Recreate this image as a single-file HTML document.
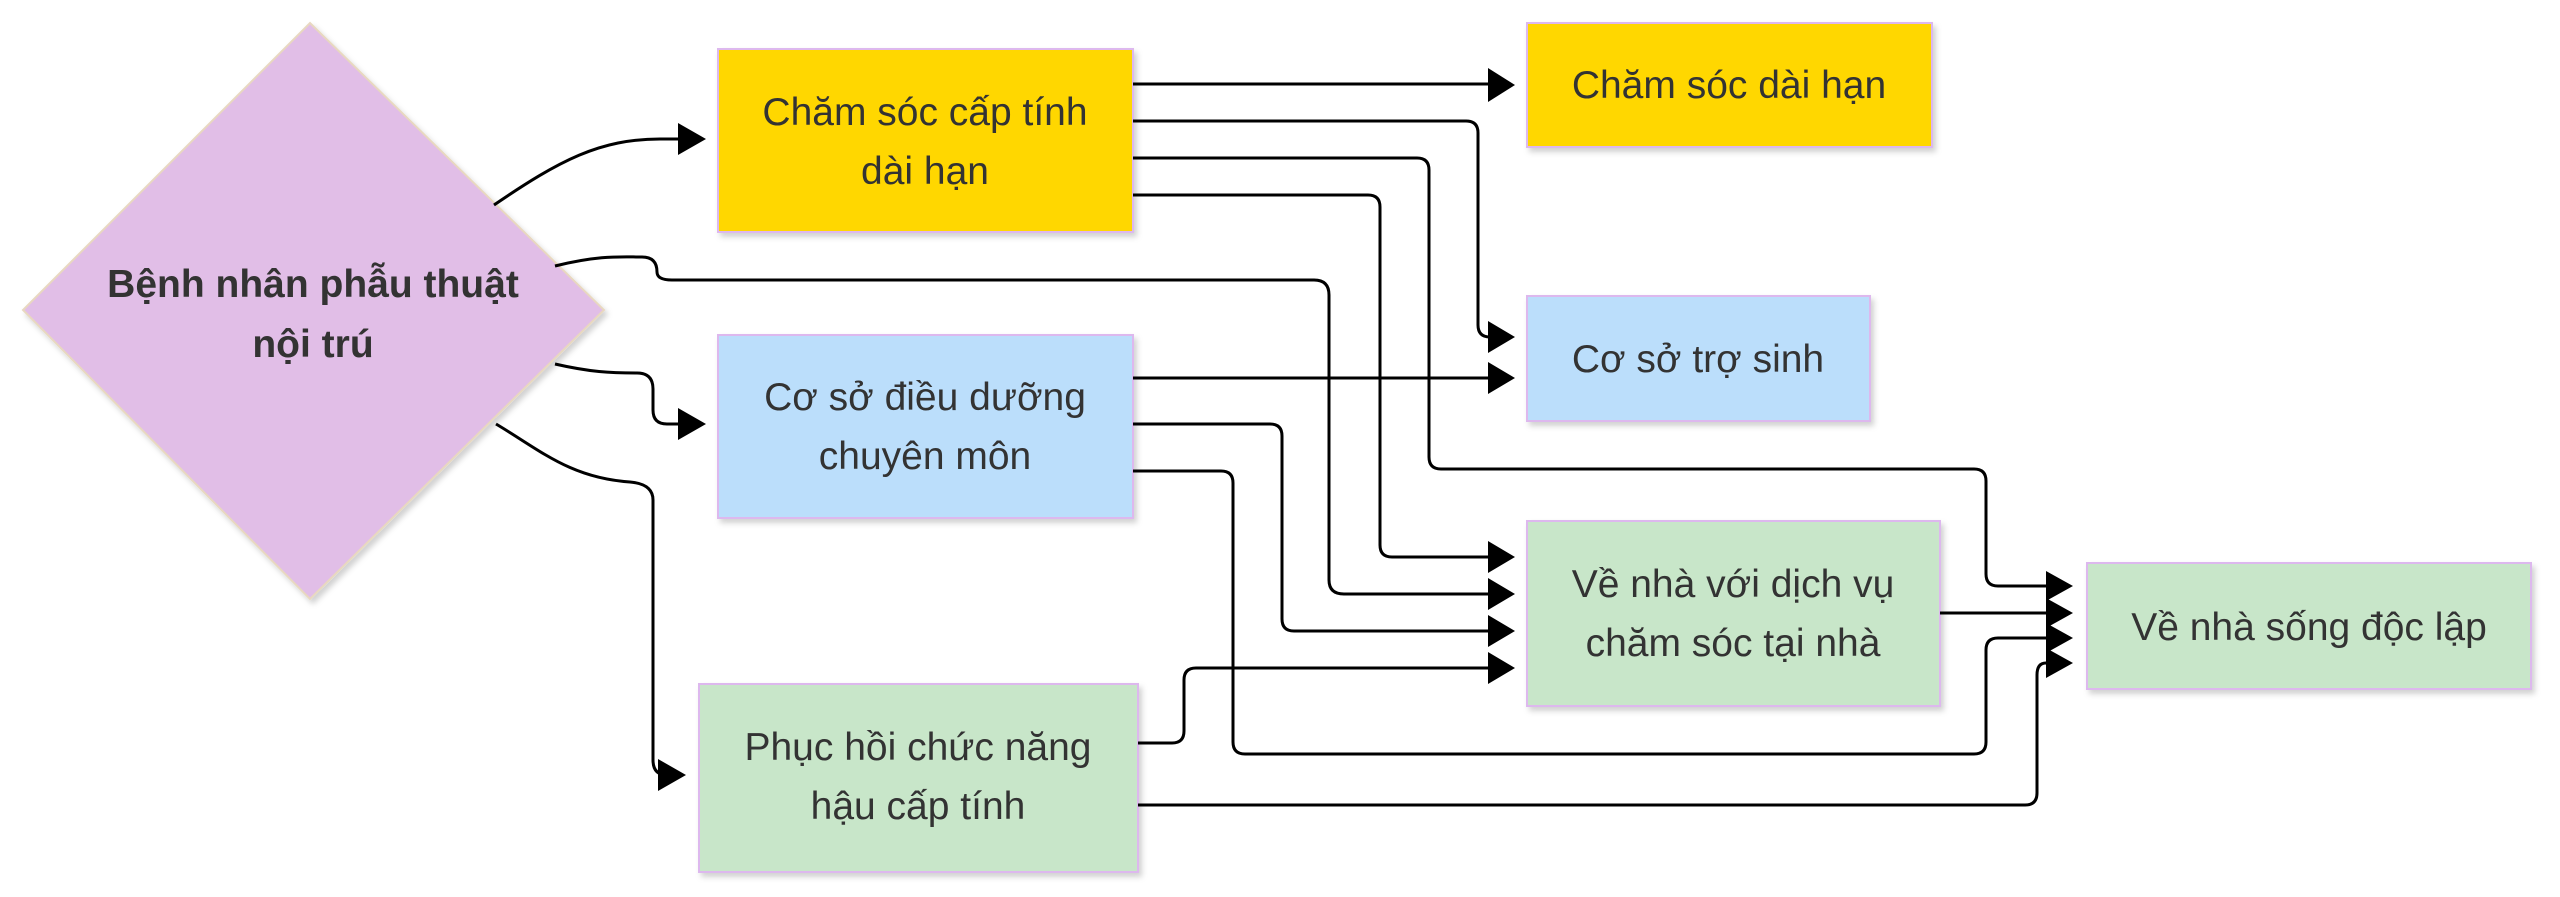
<!DOCTYPE html>
<html><head><meta charset="utf-8"><style>
body{margin:0;background:#fff;}
svg text{font-family:"Liberation Sans",sans-serif;font-size:39px;fill:#333;}
</style></head><body>
<svg width="2560" height="892" viewBox="0 0 2560 892" xmlns="http://www.w3.org/2000/svg">
<defs>
<filter id="sh" x="-10%" y="-10%" width="130%" height="130%"><feDropShadow dx="3" dy="4" stdDeviation="3" flood-color="#000" flood-opacity="0.18"/></filter>
</defs>
<polygon points="310,23 604,310 310,599 23,310" fill="#E1BEE7" stroke="#E8D8C0" stroke-width="2" filter="url(#sh)"/>
<g stroke="#DDB8EE" stroke-width="2" filter="url(#sh)">
<rect x="718" y="49" width="415" height="183" fill="#FFD700"/>
<rect x="718" y="335" width="415" height="183" fill="#BBDEFB"/>
<rect x="699" y="684" width="439" height="188" fill="#C8E6C9"/>
<rect x="1527" y="23" width="405" height="124" fill="#FFD700"/>
<rect x="1527" y="296" width="343" height="125" fill="#BBDEFB"/>
<rect x="1527" y="521" width="413" height="185" fill="#C8E6C9"/>
<rect x="2087" y="563" width="444" height="126" fill="#C8E6C9"/>
</g>
<g fill="none" stroke="#000" stroke-width="3">
<path d="M494,205 C560,160 600,139 660,139 L678,139" />
<path d="M555,364 C590,372 610,373 637,373 Q653,373 653,389 L653,410 Q653,424 667,424 L678,424"/>
<path d="M496,424 C540,450 570,478 630,482 Q653,484 653,500 L653,760 Q653,775 667,775"/>
<path d="M555,266 C600,255 620,257 642,257 Q657,257 657,272 Q657,280 672,280 L1314,280 Q1329,280 1329,295 L1329,580 Q1329,594 1344,594 L1488,594"/>
<path d="M1133,84 L1488,84"/>
<path d="M1133,121 L1466,121 Q1478,121 1478,133 L1478,325 Q1478,337 1490,337"/>
<path d="M1133,158 L1417,158 Q1429,158 1429,170 L1429,457 Q1429,469 1441,469 L1974,469 Q1986,469 1986,481 L1986,574 Q1986,586 1998,586 L2046,586"/>
<path d="M1133,195 L1368,195 Q1380,195 1380,207 L1380,545 Q1380,557 1392,557 L1488,557"/>
<path d="M1133,378 L1488,378"/>
<path d="M1133,424 L1270,424 Q1282,424 1282,436 L1282,619 Q1282,631 1294,631 L1488,631"/>
<path d="M1133,471 L1221,471 Q1233,471 1233,483 L1233,742 Q1233,754 1245,754 L1974,754 Q1986,754 1986,742 L1986,650 Q1986,638 1998,638 L2046,638"/>
<path d="M1138,743 L1172,743 Q1184,743 1184,731 L1184,680 Q1184,668 1196,668 L1488,668"/>
<path d="M1138,805 L2025,805 Q2037,805 2037,793 L2037,675 Q2037,663 2046,663"/>
<path d="M1940,613 L2046,613"/>
</g>
<g fill="#000">
<path d="M678,123 L706,139 L678,155 z"/>
<path d="M678,408 L706,424 L678,440 z"/>
<path d="M658,759 L686,775 L658,791 z"/>
<path d="M1488,68 L1515,85 L1488,102 z"/>
<path d="M1488,321 L1515,337 L1488,353 z"/>
<path d="M1488,362 L1515,378 L1488,394 z"/>
<path d="M1488,541 L1515,557 L1488,573 z"/>
<path d="M1488,578 L1515,594 L1488,610 z"/>
<path d="M1488,615 L1515,631 L1488,647 z"/>
<path d="M1488,652 L1515,668 L1488,684 z"/>
<path d="M2046,571 L2073,586 L2046,601 z"/>
<path d="M2046,598 L2073,613 L2046,628 z"/>
<path d="M2046,623 L2073,638 L2046,653 z"/>
<path d="M2046,648 L2073,663 L2046,678 z"/>
</g>
<g text-anchor="middle">
<text x="313" y="297" font-weight="bold">Bệnh nhân phẫu thuật</text>
<text x="313" y="357" font-weight="bold">nội trú</text>
<text x="925" y="125">Chăm sóc cấp tính</text>
<text x="925" y="184">dài hạn</text>
<text x="925" y="410">Cơ sở điều dưỡng</text>
<text x="925" y="469">chuyên môn</text>
<text x="918" y="760">Phục hồi chức năng</text>
<text x="918" y="819">hậu cấp tính</text>
<text x="1729" y="98">Chăm sóc dài hạn</text>
<text x="1698" y="372">Cơ sở trợ sinh</text>
<text x="1733" y="597">Về nhà với dịch vụ</text>
<text x="1733" y="656">chăm sóc tại nhà</text>
<text x="2309" y="640">Về nhà sống độc lập</text>
</g>
</svg>
</body></html>
